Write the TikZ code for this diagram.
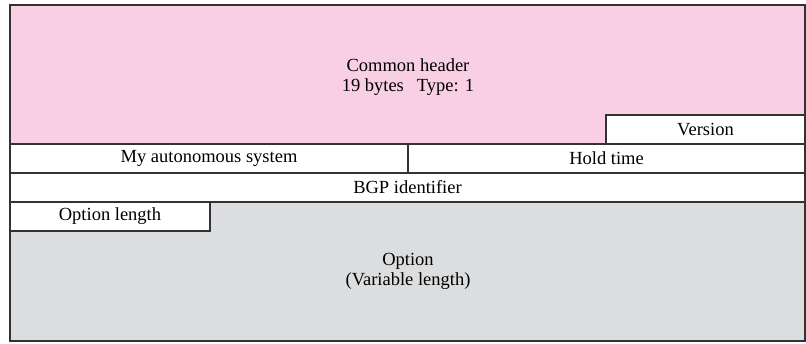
\documentclass[tikz,border=0pt]{standalone}
\usepackage{fontspec}
\setmainfont{Liberation Serif}
\definecolor{hdrpink}{RGB}{249,208,227}
\definecolor{optgray}{RGB}{220,221,223}
\definecolor{edge}{RGB}{50,50,52}
\begin{document}
\begin{tikzpicture}[x=1pt,y=-1pt,
  field/.style={draw=edge,line width=1.3pt,fill=white,rectangle,inner sep=0pt,outer sep=0pt,
    font=\fontsize{18.5}{20}\selectfont},
  label/.style={align=center,inner sep=0pt,font=\fontsize{18.5}{20}\selectfont},
  area/.style={draw=edge,line width=1.3pt}]
\useasboundingbox (0,0) rectangle (806,343);
% pink common header area
\fill[hdrpink] (10,5) -- (805,5) -- (805,115) -- (606,115) -- (606,144) -- (10,144) -- cycle;
\draw[area] (10,144) -- (10,5) -- (805,5) -- (805,115);
\node[label] (hdr) at (408,77) {Common header\\19 bytes\hspace{13pt}Type: 1};
% gray option area
\fill[optgray] (210,202) -- (805,202) -- (805,341) -- (10,341) -- (10,231) -- (210,231) -- cycle;
\draw[area] (10,231) -- (10,341) -- (805,341) -- (805,202);
\node[label] (opt) at (408,271) {Option\\(Variable length)};
% fields
\node[field,minimum width=199pt,minimum height=29pt] (ver) at (705.5,129.5) {Version};
\node[field,minimum width=398pt,minimum height=29pt] (myas) at (209,158.5) {My autonomous system};
\node[field,minimum width=397pt,minimum height=29pt] (hold) at (606.5,158.5) {Hold time};
\node[field,minimum width=795pt,minimum height=29pt] (bgp) at (407.5,187.5) {BGP identifier};
\node[field,minimum width=200pt,minimum height=29pt] (olen) at (110,216.5) {Option length};
\end{tikzpicture}
\end{document}
